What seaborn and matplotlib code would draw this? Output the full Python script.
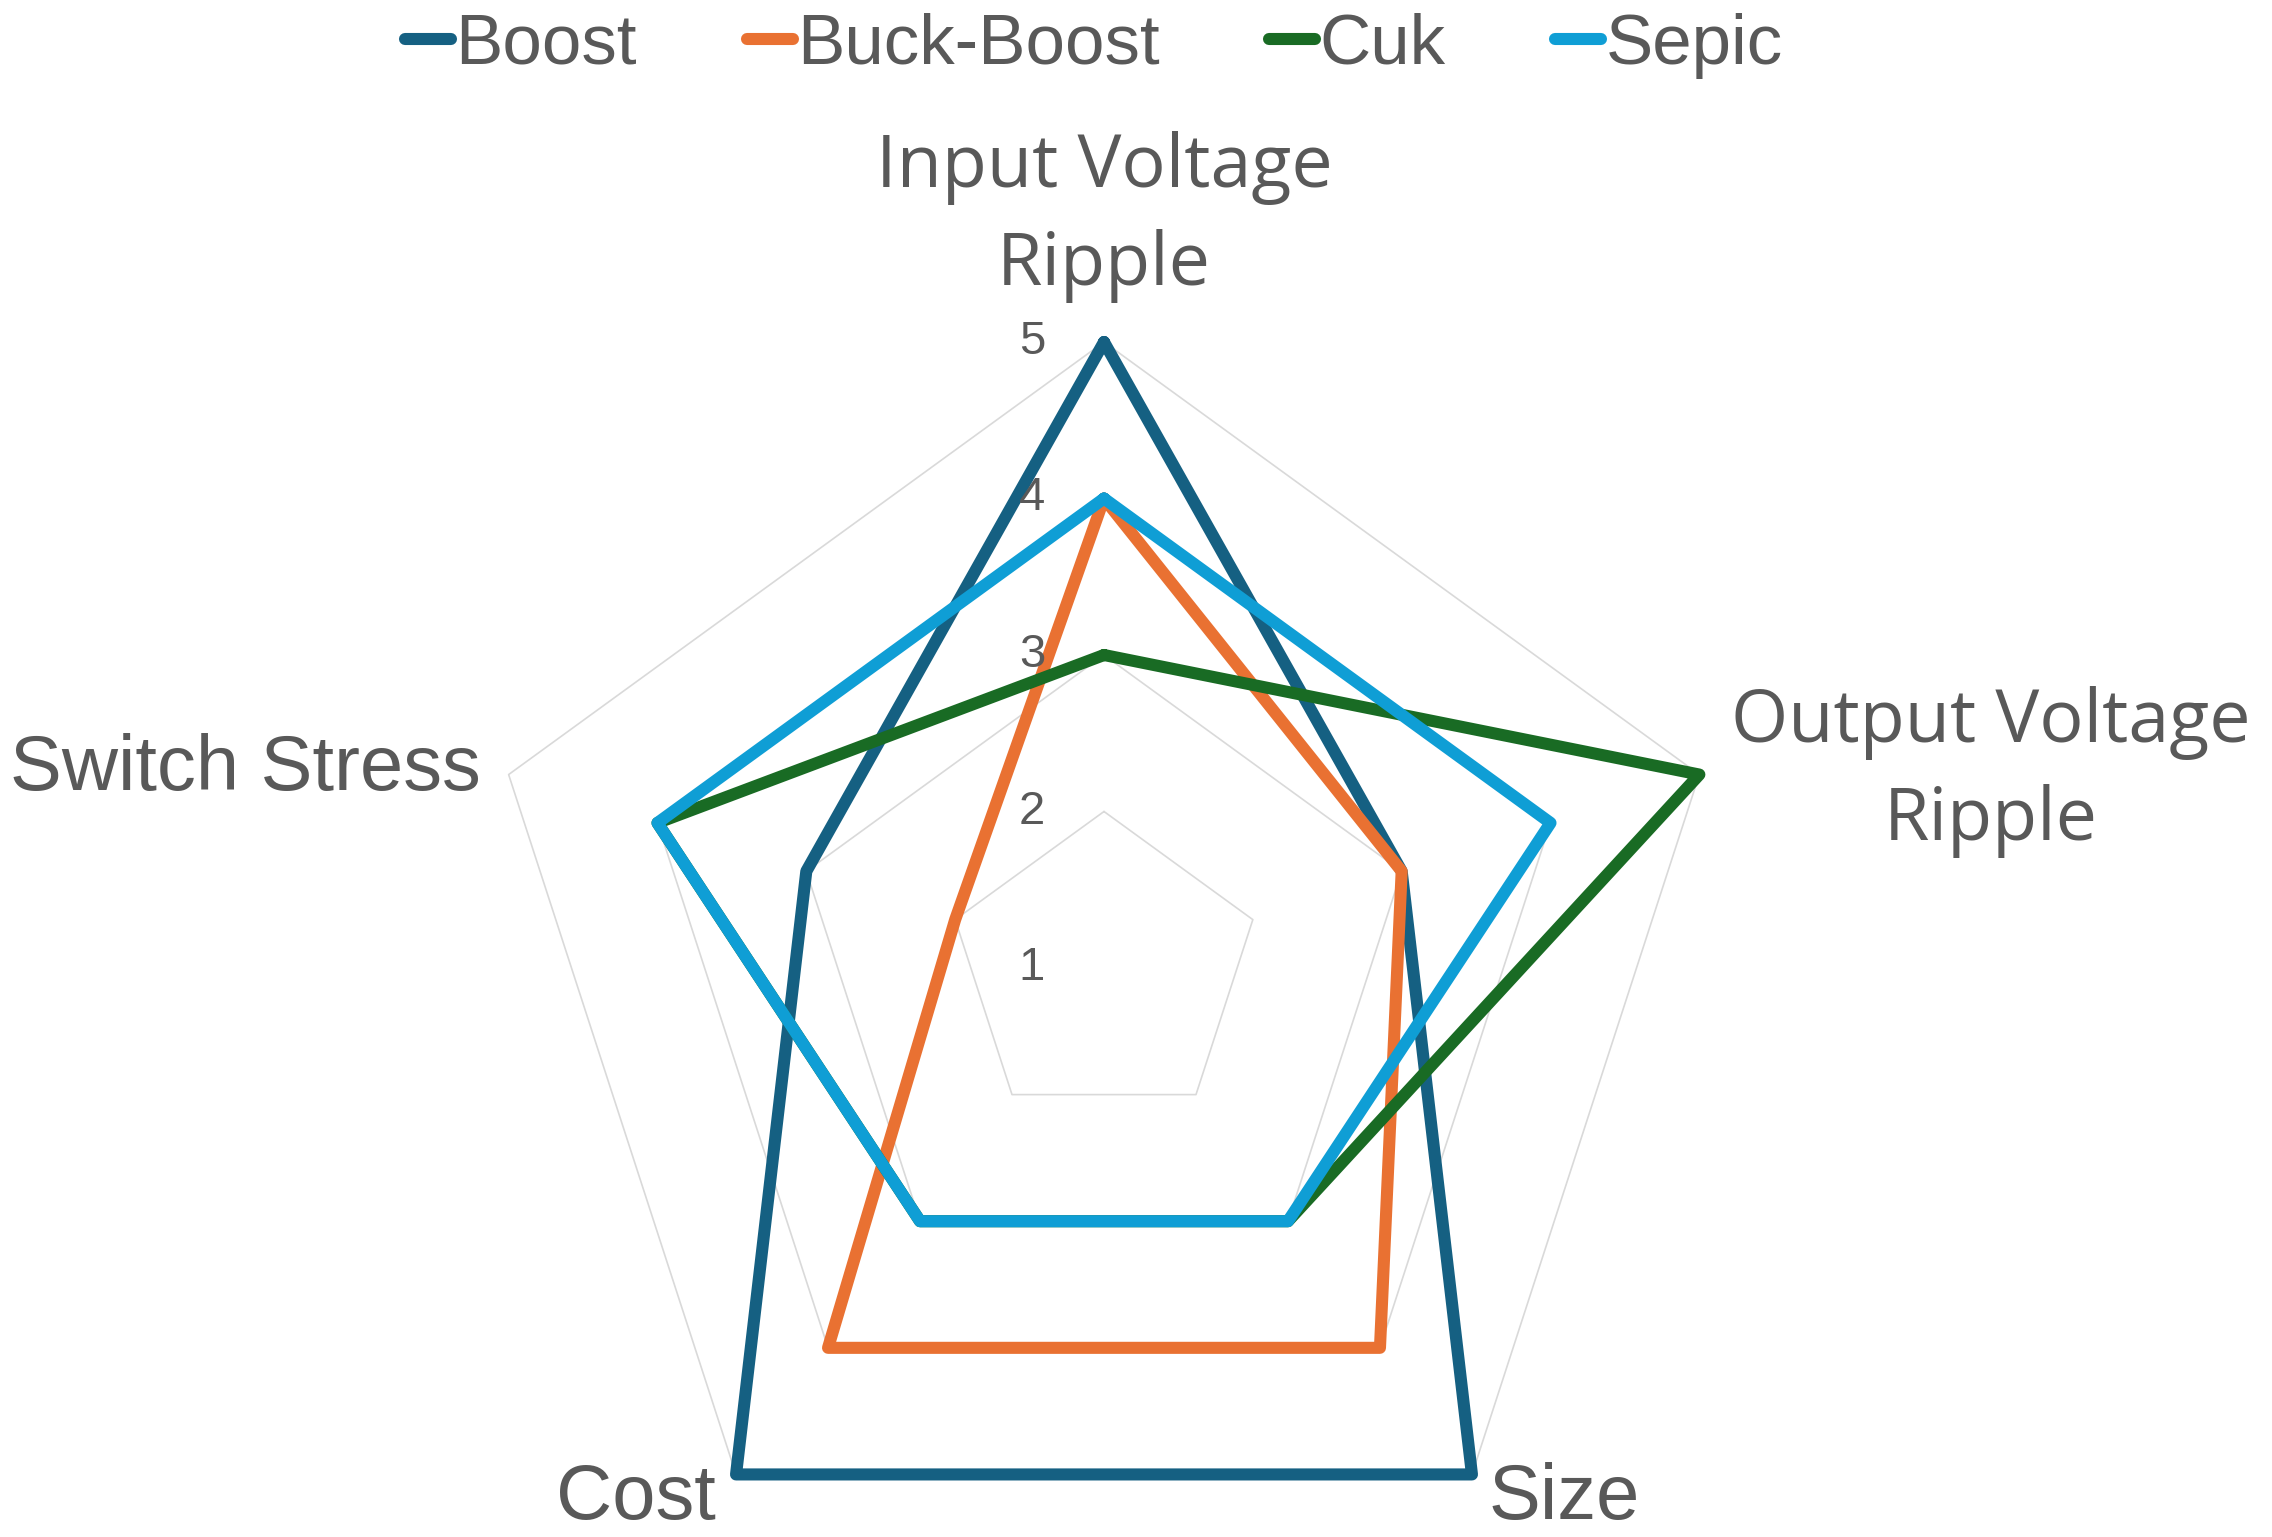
import numpy as np
import pandas as pd
import matplotlib
matplotlib.use("Agg")
import matplotlib.pyplot as plt
from matplotlib.transforms import offset_copy
import seaborn as sns

# ---- data ----
categories = ["Input Voltage Ripple", "Output Voltage Ripple", "Size", "Cost", "Switch Stress"]
series_names = ["Boost", "Buck-Boost", "Cuk", "Sepic"]
boost = [5, 3, 5, 5, 3]
buck_boost = [4, 3, 4, 4, 2]
cuk = [3, 5, 3, 3, 4]
sepic = [4, 4, 3, 3, 4]
tick_values = [1, 2, 3, 4, 5]
colors = ["#156082", "#E97132", "#196B24", "#0F9ED5"]

sns.set_theme(style="white")
plt.rcParams["font.family"] = ["Liberation Sans", "DejaVu Sans"]

W, H = 2272, 1537
fig = plt.figure(figsize=(W / 100, H / 100), dpi=100)

cx, cy, R = 1104, 968, 626
ax = fig.add_axes([(cx - R) / W, (H - cy - R) / H, 2 * R / W, 2 * R / H], projection="polar")
ax.set_theta_offset(np.pi / 2)
ax.set_theta_direction(-1)

n = len(categories)
angles = np.linspace(0, 2 * np.pi, n, endpoint=False)
closed_angles = np.append(angles, angles[0])

rows = []
for name, vals in zip(series_names, [boost, buck_boost, cuk, sepic]):
    vv = list(vals) + [vals[0]]
    for i, (a, v) in enumerate(zip(closed_angles, vv)):
        rows.append({"series": name, "theta": a, "value": v, "order": i})
df = pd.DataFrame(rows)

# grid pentagons
for lvl in tick_values[1:]:
    ax.plot(closed_angles, [lvl] * (n + 1), color="#d9d9d9", lw=1.2, zorder=0, clip_on=False)

sns.lineplot(data=df, x="theta", y="value", hue="series", hue_order=series_names,
             palette=colors, sort=False, estimator=None, units="series", lw=8.7,
             ax=ax, legend=False)

handles = []
for line in ax.lines[len(tick_values) - 1:]:
    line.set_solid_joinstyle("round")
    line.set_solid_capstyle("round")
    line.set_clip_on(False)
    handles.append(line)

ax.set_ylim(1, 5)
ax.set_xticks([])
ax.set_yticks([])
ax.grid(False)
ax.spines["polar"].set_visible(False)
ax.set_xlabel("")
ax.set_ylabel("")
ax.patch.set_alpha(0)

gray = "#595959"
tr = offset_copy(ax.transData, fig=fig, x=-72, y=0, units="dots")
for v in tick_values:
    ax.text(0, v, str(v), transform=tr, ha="center", va="center", fontsize=34,
            color=gray, family=["Liberation Sans", "DejaVu Sans"], clip_on=False)

def fx(x, y):
    return x / W, 1 - y / H

big = dict(fontsize=53, color=gray, family=["Open Sans", "DejaVu Sans"])
fig.text(*fx(1104, 187), "Input Voltage", ha="center", va="baseline", **big)
fig.text(*fx(1104, 285), "Ripple", ha="center", va="baseline", **big)
fig.text(*fx(1991, 742), "Output Voltage", ha="center", va="baseline", **big)
fig.text(*fx(1991, 840), "Ripple", ha="center", va="baseline", **big)

sm = dict(fontsize=56, color=gray, family=["Liberation Sans", "DejaVu Sans"])
fig.text(*fx(10, 790), "Switch Stress", ha="left", va="baseline", **sm)
fig.text(*fx(556, 1519), "Cost", ha="left", va="baseline", **sm)
fig.text(*fx(1489, 1519), "Size", ha="left", va="baseline", **sm)

leg = fig.legend(handles, series_names, loc="center", bbox_to_anchor=fx(1094, 46),
                 ncol=4, frameon=False, fontsize=51, handlelength=0.65,
                 handletextpad=0.06, columnspacing=1.55, borderpad=0, borderaxespad=0)
for t in leg.get_texts():
    t.set_color(gray)

fig.savefig("out.png", dpi=100, facecolor="white")
